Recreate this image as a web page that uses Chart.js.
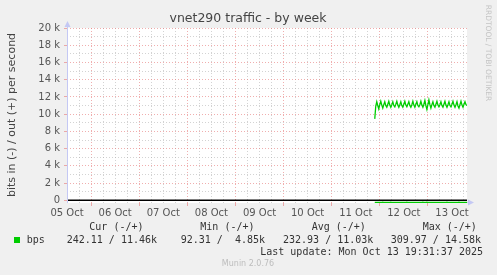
<!DOCTYPE html>
<html>
<head>
<meta charset="utf-8">
<script src="https://cdn.jsdelivr.net/npm/chart.js@4/dist/chart.umd.min.js"></script>
<style>
html,body{margin:0;padding:0;background:#f0f0f0;}
canvas{display:block;}
</style>
</head>
<body>
<canvas id="c" width="497" height="275"></canvas>
<script>
// ---- data ----
const title = 'vnet290 traffic - by week';
const yAxisTitle = 'bits in (-) / out (+) per second';
const dayLabels = ['05 Oct','06 Oct','07 Oct','08 Oct','09 Oct','10 Oct','11 Oct','12 Oct','13 Oct'];
// x in hours since 05 Oct 00:00
const xMin = 12;        // 05 Oct 12:00
const xMax = 211.5;     // 13 Oct 19:30 (last update)
const seriesStart = 165.5; // 11 Oct 21:30
const stepHours = 0.5;     // 30-minute samples
// out (+) in kbit/s
const outK = [9.45,10.95,11.45,11.0,10.6,11.1,11.5,11.05,10.7,11.1,11.45,11.0,10.8,11.15,11.5,11.05,
10.8,11.1,11.45,11.0,10.85,11.15,11.5,11.05,10.8,11.1,11.45,11.0,10.8,11.15,11.5,11.05,
10.85,11.15,11.45,11.0,10.8,11.1,11.5,11.05,10.8,11.15,11.45,11.0,10.85,11.1,11.5,11.05,
10.8,11.15,11.6,11.0,10.55,11.1,11.65,11.1,10.7,11.1,11.45,11.0,10.8,11.15,11.5,11.05,
10.85,11.1,11.45,11.0,10.8,11.15,11.5,11.05,10.8,11.1,11.45,11.0,10.85,11.15,11.5,11.05,
10.8,11.1,11.45,10.95,10.7,11.1,11.5,11.05,10.8,11.15,11.45,11.1,11.0];
// in (-) in bit/s
const inBps = [235,240,245,238,232,240,244,236,230,241,246,238,234,240,243,237,
231,240,245,238,233,239,244,236,232,241,245,238,234,240,243,237,
230,241,246,239,233,240,244,236,232,240,245,238,234,239,243,237,
231,240,248,238,225,240,250,237,232,240,244,238,233,241,245,237,
232,240,244,238,233,240,245,237,231,241,246,238,234,240,243,236,
232,240,245,238,230,241,244,237,233,240,245,239,242];
const legendHeaders = ['Cur (-/+)','Min (-/+)','Avg (-/+)','Max (-/+)'];
const legendName = 'bps';
const legendValues = ['242.11 / 11.46k','92.31 /  4.85k','232.93 / 11.03k','309.97 / 14.58k'];
const lastUpdate = 'Last update: Mon Oct 13 19:31:37 2025';
const footer = 'Munin 2.0.76';
const sideText = 'RRDTOOL / TOBI OETIKER';
const yMin = -310, yMax = 20000;

// ---- build datasets ----
const outPts = outK.map((v,i)=>({x: seriesStart + i*stepHours, y: v*1000}));
const inPts = inBps.map((v,i)=>({x: seriesStart + i*stepHours, y: -v}));
const zeroPts = [{x:xMin,y:0},{x:xMax,y:0}];

const MAJ = 'rgba(230,120,120,0.6)';
const MIN = 'rgba(175,175,175,0.55)';
const AXIS = '#c4c8f4';

const deco = {
  id:'deco',
  beforeDraw(chart){
    const {ctx, chartArea:a} = chart;
    ctx.save();
    ctx.fillStyle='#ffffff';
    ctx.fillRect(a.left, a.top, a.right-a.left, a.bottom-a.top);
    ctx.restore();
  },
  afterDraw(chart){
    const {ctx, chartArea:a} = chart;
    ctx.save();
    // axes
    ctx.strokeStyle=AXIS; ctx.fillStyle=AXIS; ctx.lineWidth=1;
    ctx.beginPath(); ctx.moveTo(a.left+0.5, a.bottom); ctx.lineTo(a.left+0.5, a.top-3); ctx.stroke();
    ctx.beginPath(); ctx.moveTo(a.left-2.5, a.top-1); ctx.lineTo(a.left+3.5, a.top-1); ctx.lineTo(a.left+0.5, a.top-7); ctx.closePath(); ctx.fill();
    ctx.beginPath(); ctx.moveTo(a.right, a.bottom-0.5); ctx.lineTo(a.right+3, a.bottom-0.5); ctx.stroke();
    ctx.beginPath(); ctx.moveTo(a.right+1, a.bottom-3.5); ctx.lineTo(a.right+1, a.bottom+2.5); ctx.lineTo(a.right+7, a.bottom-0.5); ctx.closePath(); ctx.fill();
    // title
    ctx.fillStyle='#444'; ctx.font='12.5px "DejaVu Sans"'; ctx.textAlign='center'; ctx.textBaseline='middle';
    ctx.fillText(title, 248, 18.5);
    // y title
    ctx.save(); ctx.translate(12, 115); ctx.rotate(-Math.PI/2);
    ctx.font='11px "DejaVu Sans"'; ctx.fillStyle='#444';
    ctx.fillText(yAxisTitle, 0, 0); ctx.restore();
    // side text
    ctx.save(); ctx.translate(488, 53); ctx.rotate(Math.PI/2);
    ctx.font='7.5px "DejaVu Sans"'; ctx.fillStyle='#c4c4c4';
    ctx.fillText(sideText, 0, 0); ctx.restore();
    // legend
    ctx.font='10px "DejaVu Sans Mono"'; ctx.fillStyle='#333'; ctx.textAlign='left';
    const hx=[89.3,200.3,311.7,422.7];
    legendHeaders.forEach((t,i)=>ctx.fillText(t, hx[i], 227.5));
    const vx=[66.7,180.7,283,390.7];
    ctx.fillText(legendName, 26.7, 240.5);
    legendValues.forEach((t,i)=>ctx.fillText(t, vx[i], 240.5));
    ctx.fillStyle='#00cc00'; ctx.fillRect(14,237,6,6);
    ctx.fillStyle='#333'; ctx.textAlign='right';
    ctx.fillText(lastUpdate, 483, 252.5);
    ctx.textAlign='center'; ctx.font='8px "DejaVu Sans"'; ctx.fillStyle='#bdbdbd';
    ctx.fillText(footer, 248, 264);
    ctx.restore();
  }
};

new Chart(document.getElementById('c'), {
  type:'line',
  data:{datasets:[
    {data: zeroPts, borderColor:'#000000', borderWidth:1.5, pointRadius:0, order:3},
    {data: inPts, borderColor:'#00cc00', borderWidth:1.4, pointRadius:0, tension:0, order:2},
    {data: outPts, borderColor:'#00cc00', borderWidth:1.3, pointRadius:0, tension:0, order:1}
  ]},
  options:{
    responsive:false, animation:false,
    layout:{padding:{top:28,right:30,left:0,bottom:0}},
    plugins:{legend:{display:false}, title:{display:false}, tooltip:{enabled:false}},
    scales:{
      x:{
        type:'linear', min:xMin, max:xMax,
        afterBuildTicks(s){ const t=[]; for(let v=12; v<=xMax; v+=6) t.push({value:v}); s.ticks=t; },
        afterFit(s){ s.height = 72; },
        ticks:{autoSkip:false, maxRotation:0, minRotation:0, padding:1, color:'#555',
          font:{family:'DejaVu Sans', size:10},
          callback(v){ return (v%24===12) ? dayLabels[(v-12)/24] : ''; }},
        grid:{color:(c)=>(c.tick && c.tick.value%24===0)?MAJ:MIN, lineWidth:1,
          tickLength:3, tickColor:(c)=>(c.tick && c.tick.value%24===0)?MAJ:'rgba(0,0,0,0)'},
        border:{display:false, dash:[1,2]}
      },
      y:{
        type:'linear', min:yMin, max:yMax,
        afterBuildTicks(s){ const t=[]; for(let v=0; v<=yMax; v+=1000) t.push({value:v}); s.ticks=t; },
        afterFit(s){ s.width = 67; },
        ticks:{autoSkip:false, padding:4, color:'#555', font:{family:'DejaVu Sans', size:10},
          callback(v){ if(v%2000!==0) return ''; return v===0?'0':(v/1000)+' k'; }},
        grid:{color:(c)=>(c.tick && c.tick.value%2000===0)?MAJ:MIN, lineWidth:1,
          tickLength:3, tickColor:(c)=>(c.tick && c.tick.value%2000===0)?MAJ:'rgba(0,0,0,0)'},
        border:{display:false, dash:[1,2]}
      }
    }
  },
  plugins:[deco]
});
</script>
</body>
</html>
